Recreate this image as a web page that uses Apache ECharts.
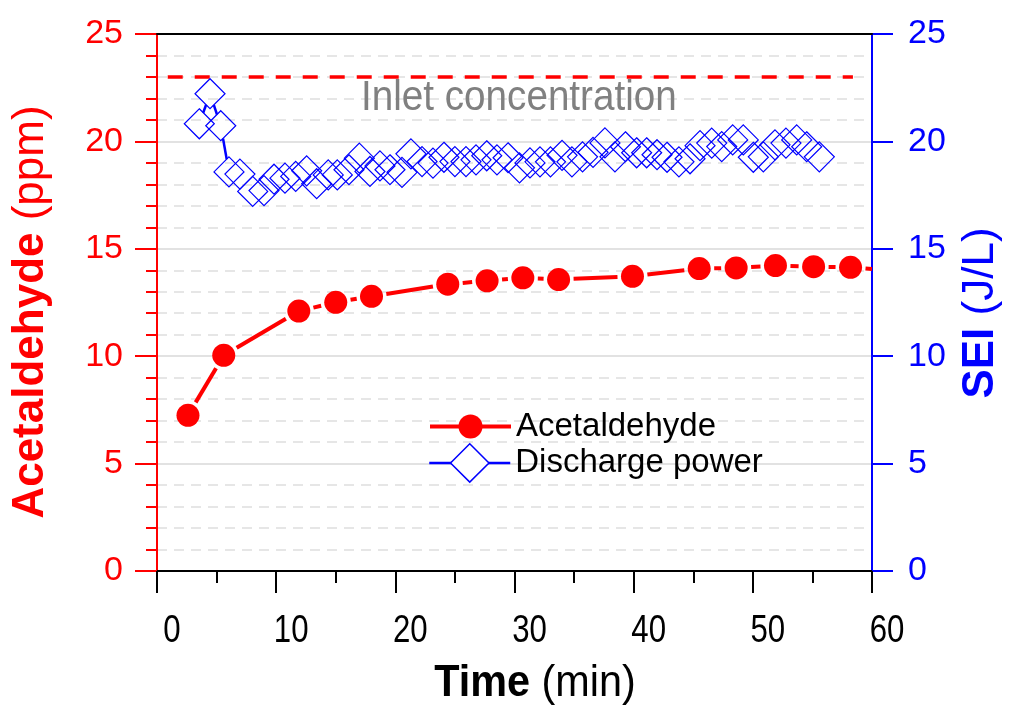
<!DOCTYPE html>
<html>
<head>
<meta charset="utf-8">
<script src="https://cdn.jsdelivr.net/npm/echarts@6/dist/echarts.min.js"></script>
<style>
  html, body { margin: 0; padding: 0; background: #fff; }
  #chart { width: 1009px; height: 709px; }
</style>
</head>
<body>
<div id="chart"></div>
<script>
// Acetaldehyde outlet concentration (ppm) versus time (min)
const acetTime = [2.6, 5.6, 11.9, 15.0, 18.0, 24.4, 27.7, 30.7, 33.7, 39.9, 45.5, 48.6, 51.9, 55.1, 58.2, 61.3];
const acetPpm  = [7.25, 10.04, 12.10, 12.51, 12.79, 13.35, 13.51, 13.65, 13.57, 13.72, 14.08, 14.11, 14.22, 14.17, 14.14, 14.0];

// Specific energy input (J/L) of the discharge versus time (min)
const seiTime = [3.55, 4.45, 5.35, 6.04, 6.96, 8.03, 8.98, 9.82, 10.74, 11.64, 12.56, 13.40, 14.37, 15.13, 16.11,
  16.98, 17.87, 18.71, 19.55, 20.56, 21.31, 22.24, 23.16, 24.08, 25.00, 25.93, 26.77, 27.67, 28.53, 29.46,
  30.42, 31.30, 32.14, 33.02, 33.99, 34.82, 35.71, 36.59, 37.59, 38.43, 39.31, 40.25, 41.09, 41.96, 42.80,
  43.80, 44.73, 45.57, 46.55, 47.39, 48.31, 49.20, 50.04, 50.88, 51.86, 52.78, 53.68, 54.52, 55.58];
const seiValue = [20.82, 22.22, 20.73, 18.58, 18.48, 17.67, 17.71, 18.24, 18.29, 18.37, 18.63, 18.03, 18.44, 18.44, 18.68,
  19.22, 18.60, 18.86, 18.68, 18.56, 19.42, 19.06, 18.99, 19.26, 19.06, 19.06, 19.14, 19.33, 19.14, 19.24,
  18.77, 19.00, 19.05, 19.05, 19.35, 19.05, 19.28, 19.49, 19.93, 19.28, 19.75, 19.47, 19.47, 19.38, 19.26,
  19.05, 19.19, 19.80, 19.92, 19.76, 20.07, 20.07, 19.26, 19.28, 19.84, 19.92, 20.07, 19.75, 19.28];

// Inlet concentration reference line (ppm) and its time span
const inletLevel = 23;
const inletSpan = [0.9, 58.4];

// Axis ranges, tick steps and time tick labels
const timeRange = [0, 60], timeStep = 10;
const timeTickLabels = [0, 10, 20, 30, 40, 50, 60];
const yRange = [0, 25], yStep = 5;

const RED = '#ff0000';
const BLUE = '#0000ff';
const SANS = '"Liberation Sans", Arial, sans-serif';

const pairs = (xs, ys) => xs.map((x, i) => [x, ys[i]]);

// Connecting segments that stop short of each symbol (gap around markers).
// gapFraction(dx, dy) returns the fraction of the segment hidden at each end.
function gappedConnector(name, xs, ys, yAxisIndex, color, width, gapFraction) {
  const segs = [];
  for (let i = 0; i < xs.length - 1; i++) segs.push([xs[i], ys[i], xs[i + 1], ys[i + 1]]);
  return {
    type: 'custom',
    name: name,
    yAxisIndex: yAxisIndex,
    silent: true,
    z: 2,
    data: segs,
    encode: { x: [0, 2], y: [1, 3] },
    renderItem: function (params, api) {
      const a = api.coord([api.value(0), api.value(1)]);
      const b = api.coord([api.value(2), api.value(3)]);
      const dx = b[0] - a[0], dy = b[1] - a[1];
      const f = gapFraction(dx, dy);
      if (f * 2 >= 1) return null;
      let p = [a[0] + dx * f, a[1] + dy * f];
      let q = [b[0] - dx * f, b[1] - dy * f];
      const right = params.coordSys.x + params.coordSys.width;
      if (p[0] > right) return null;
      if (q[0] > right) {
        const k = (right - p[0]) / (q[0] - p[0]);
        q = [right, p[1] + (q[1] - p[1]) * k];
      }
      return {
        type: 'line',
        shape: { x1: p[0], y1: p[1], x2: q[0], y2: q[1] },
        style: { stroke: color, lineWidth: width, lineCap: 'butt' }
      };
    }
  };
}

const circleGap = 15;   // marker radius plus clearance
const diamondGap = 15;  // half diagonal of the diamond

const chart = echarts.init(document.getElementById('chart'), null, { renderer: 'canvas' });

chart.setOption({
  animation: false,
  backgroundColor: '#ffffff',
  grid: {
    left: 157, right: 137, top: 34, bottom: 138,
    show: false
  },
  xAxis: [
    {
      type: 'value', position: 'bottom',
      min: timeRange[0], max: timeRange[1], interval: timeStep,
      axisLine: { show: true, onZero: false, lineStyle: { color: '#000', width: 2 } },
      axisTick: { show: true, inside: false, length: 22, lineStyle: { color: '#000', width: 2 } },
      minorTick: { show: true, splitNumber: 2, length: 12, lineStyle: { color: '#000', width: 2 } },
      splitLine: { show: false },
      axisLabel: { show: false }
    },
    {
      // plain frame line along the top of the plot
      type: 'value', position: 'top',
      min: timeRange[0], max: timeRange[1], interval: timeStep,
      axisLine: { show: true, onZero: false, lineStyle: { color: '#000', width: 2 } },
      axisTick: { show: false },
      splitLine: { show: false },
      axisLabel: { show: false },
      z: 10
    }
  ],
  yAxis: [
    {
      type: 'value', position: 'left',
      min: yRange[0], max: yRange[1], interval: yStep,
      axisLine: { show: true, onZero: false, lineStyle: { color: RED, width: 2 } },
      axisTick: { show: true, inside: false, length: 22, lineStyle: { color: RED, width: 2 } },
      minorTick: { show: true, splitNumber: 5, length: 11, lineStyle: { color: RED, width: 2 } },
      splitLine: { show: true, showMinLine: false, showMaxLine: false, lineStyle: { color: '#d9d9d9', width: 1.5 } },
      minorSplitLine: { show: true, lineStyle: { color: '#dedede', width: 1.5, type: [10, 7] } },
      axisLabel: { color: RED, fontSize: 34, fontFamily: SANS, margin: 34 }
    },
    {
      type: 'value', position: 'right',
      min: yRange[0], max: yRange[1], interval: yStep,
      axisLine: { show: true, onZero: false, lineStyle: { color: BLUE, width: 2 } },
      axisTick: { show: true, inside: false, length: 21, lineStyle: { color: BLUE, width: 2 } },
      splitLine: { show: false },
      axisLabel: { color: BLUE, fontSize: 34, fontFamily: SANS, margin: 36 }
    }
  ],
  legend: [
    {
      orient: 'vertical', left: 428, top: 410, padding: 0,
      itemWidth: 81, itemHeight: 30, selectedMode: false,
      textStyle: { color: '#000', fontSize: 33, fontFamily: SANS },
      data: [{
        name: 'Acetaldehyde',
        lineStyle: { color: RED, width: 4, opacity: 1 },
        itemStyle: { color: RED, borderWidth: 0 }
      }]
    },
    {
      orient: 'vertical', left: 428, top: 443, padding: 0,
      itemWidth: 81, itemHeight: 48, selectedMode: false,
      textStyle: { color: '#000', fontSize: 33, fontFamily: SANS },
      data: [{
        name: 'Discharge power',
        lineStyle: { color: BLUE, width: 2.5, opacity: 1 },
        itemStyle: { color: '#ffffff', borderColor: BLUE, borderWidth: 1.5 }
      }]
    }
  ],
  series: [
    {
      name: 'Inlet',
      type: 'line',
      data: [[inletSpan[0], inletLevel], [inletSpan[1], inletLevel]],
      symbol: 'none',
      silent: true,
      z: 1,
      lineStyle: { color: RED, width: 3.5, type: [15, 12] }
    },
    gappedConnector('Acetaldehyde line', acetTime, acetPpm, 0, RED, 4,
      (dx, dy) => circleGap / Math.hypot(dx, dy)),
    {
      name: 'Acetaldehyde',
      type: 'line',
      data: pairs(acetTime, acetPpm),
      symbol: 'circle',
      symbolSize: 23,
      clip: true,
      z: 3,
      itemStyle: { color: RED },
      lineStyle: { color: RED, width: 0, opacity: 0 }
    },
    gappedConnector('Discharge power line', seiTime, seiValue, 1, BLUE, 2.5,
      (dx, dy) => diamondGap / (Math.abs(dx) + Math.abs(dy))),
    {
      name: 'Discharge power',
      type: 'line',
      yAxisIndex: 1,
      data: pairs(seiTime, seiValue),
      symbol: 'diamond',
      symbolSize: 30,
      z: 3,
      itemStyle: { color: 'rgba(255,255,255,0)', borderColor: BLUE, borderWidth: 1.2 },
      lineStyle: { color: BLUE, width: 0, opacity: 0 }
    }
  ]
});

// Condensed time tick labels, placed through the x axis scale
const axisBottom = chart.convertToPixel({ yAxisIndex: 0 }, yRange[0]);
const tickTexts = timeTickLabels.map(v => ({
  type: 'text',
  x: chart.convertToPixel({ xAxisIndex: 0 }, v) + 15,
  y: axisBottom + 60,
  scaleX: 0.8,
  silent: true,
  style: {
    text: String(v), fill: '#000', font: '39px ' + SANS,
    align: 'center', verticalAlign: 'middle'
  }
}));

chart.setOption({
  graphic: tickTexts.concat([
    {
      type: 'text', x: 361, y: 98, scaleX: 0.92, silent: true,
      style: {
        text: 'Inlet concentration', fill: '#808080',
        font: '42px ' + SANS, align: 'left', verticalAlign: 'middle'
      }
    },
    {
      type: 'text', x: 535, y: 684, scaleX: 0.92, silent: true,
      style: {
        text: '{b|Time} {r|(min)}', align: 'center', verticalAlign: 'middle',
        font: '45px ' + SANS, fill: '#000',
        rich: {
          b: { fontSize: 45, fontWeight: 'bold', fontFamily: SANS, fill: '#000' },
          r: { fontSize: 45, fontFamily: SANS, fill: '#000' }
        }
      }
    },
    {
      type: 'text', x: 31, y: 312, rotation: Math.PI / 2, silent: true,
      style: {
        text: '{b|Acetaldehyde} {r|(ppm)}', align: 'center', verticalAlign: 'middle',
        font: '44px ' + SANS, fill: RED,
        rich: {
          b: { fontSize: 44, fontWeight: 'bold', fontFamily: SANS, fill: RED },
          r: { fontSize: 44, fontFamily: SANS, fill: RED }
        }
      }
    },
    {
      type: 'text', x: 981, y: 313, rotation: Math.PI / 2, silent: true,
      style: {
        text: '{b|SEI} {r|(J/L)}', align: 'center', verticalAlign: 'middle',
        font: '44px ' + SANS, fill: BLUE,
        rich: {
          b: { fontSize: 44, fontWeight: 'bold', fontFamily: SANS, fill: BLUE },
          r: { fontSize: 44, fontFamily: SANS, fill: BLUE }
        }
      }
    }
  ])
});
</script>
</body>
</html>
